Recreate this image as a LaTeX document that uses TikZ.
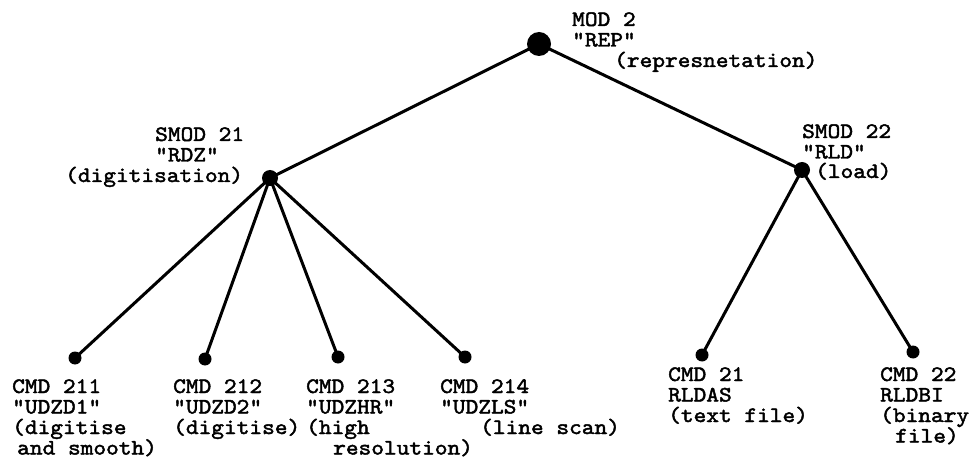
\documentclass[tikz,border=0pt]{standalone}
\usepackage{fontspec}
\newfontfamily\tw[Extension=.otf,FakeBold=2,FakeStretch=1.1]{lmmono10-regular}
\newcommand\twfont{\tw\fontsize{22}{20.5}\selectfont}
\newcommand\mylines[1]{\vtop{\baselineskip=20.5pt\lineskiplimit=-100pt\lineskip=0pt\halign{##\hfil\cr#1\crcr}}}
\begin{document}
\begin{tikzpicture}[x=1pt,y=-1pt,
  edge/.style={line width=3pt},
  dotroot/.style={circle,fill=black,inner sep=0pt,minimum size=24pt},
  dotmid/.style={circle,fill=black,inner sep=0pt,minimum size=16pt},
  dotleaf/.style={circle,fill=black,inner sep=0pt,minimum size=13pt},
  lbl/.style={anchor=base west,inner sep=0pt,font=\twfont}]
\useasboundingbox (0,0) rectangle (979,462);
% dots
\node[dotroot] (root) at (539,44) {};
\node[dotmid] (s21) at (270,178) {};
\node[dotmid] (s22) at (802,170) {};
\node[dotleaf] (l1) at (75,358) {};
\node[dotleaf] (l2) at (205,359) {};
\node[dotleaf] (l3) at (338,357) {};
\node[dotleaf] (l4) at (465,357) {};
\node[dotleaf] (l5) at (702,355) {};
\node[dotleaf] (l6) at (913,352) {};
% edges
\draw[edge] (root.center) -- (s21.center);
\draw[edge] (root.center) -- (s22.center);
\draw[edge] (s21.center) -- (l1.center);
\draw[edge] (s21.center) -- (l2.center);
\draw[edge] (s21.center) -- (l3.center);
\draw[edge] (s21.center) -- (l4.center);
\draw[edge] (s22.center) -- (l5.center);
\draw[edge] (s22.center) -- (l6.center);
% labels
\node[lbl] (troot) at (572,26) {\mylines{MOD 2\cr "REP"\cr \hspace*{42pt}(represnetation)}};
\node[lbl] (ts21a) at (155,141) {\mylines{SMOD 21\cr "RDZ"}};
\node[lbl] (ts21b) at (65,182) {(digitisation)};
\node[lbl] (ts22a) at (802,138) {\mylines{SMOD 22\cr "RLD"}};
\node[lbl] (ts22b) at (815,178) {(load)};
\node[lbl] (tl1) at (12,393) {\mylines{CMD 211\cr "UDZD1"\cr (digitise\cr \hspace*{5pt}and smooth)}};
\node[lbl] (tl2) at (173,393) {\mylines{CMD 212\cr "UDZD2"\cr (digitise)}};
\node[lbl] (tl3) at (306,393) {\mylines{CMD 213\cr "UDZHR"\cr (high\cr \hspace*{27pt}resolution)}};
\node[lbl] (tl4) at (440,393) {\mylines{CMD 214\cr "UDZLS"\cr \hspace*{40pt}(line scan)}};
\node[lbl] (tl5) at (668,381) {\mylines{CMD 21\cr RLDAS\cr (text file)}};
\node[lbl] (tl6) at (880,381) {\mylines{CMD 22\cr RLDBI\cr (binary\cr \hspace*{15pt}file)}};
\end{tikzpicture}
\end{document}
